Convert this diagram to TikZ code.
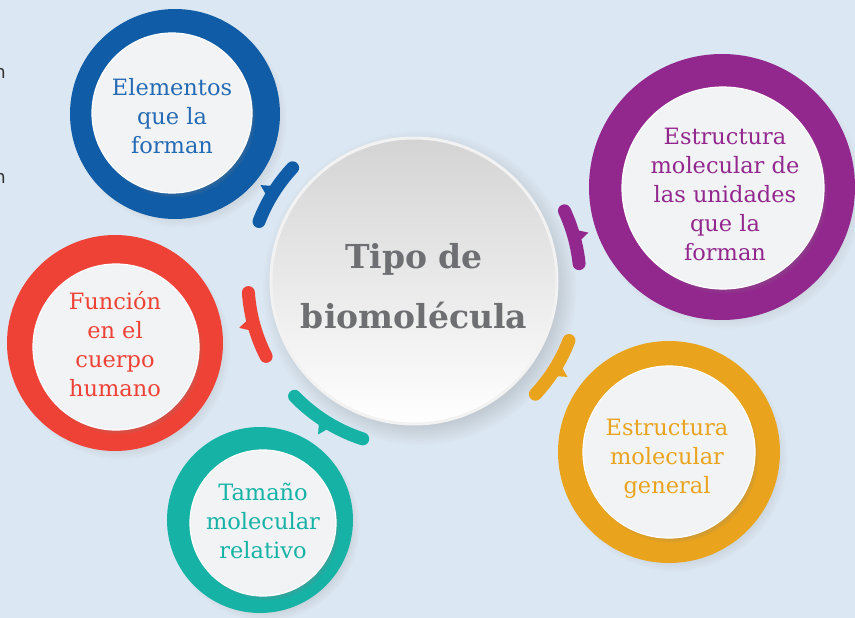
\documentclass[tikz,border=0pt]{standalone}
\usepackage{fontspec}
\setmainfont{DejaVu Serif}
\setsansfont{DejaVu Sans}
\usetikzlibrary{shadows,calc}

\definecolor{fondo}{RGB}{219,231,242}
\definecolor{azul}{RGB}{16,92,166}
\definecolor{azultxt}{RGB}{36,106,180}
\definecolor{rojo}{RGB}{239,66,54}
\definecolor{verde}{RGB}{22,178,166}
\definecolor{naranja}{RGB}{233,163,28}
\definecolor{morado}{RGB}{146,40,142}
\definecolor{gristxt}{RGB}{110,111,114}
\definecolor{disco}{RGB}{242,243,245}

\begin{document}
\begin{tikzpicture}[x=1pt, y=-1pt,
  anillo/.style={circle, inner sep=0pt, circular drop shadow={shadow xshift=5pt, shadow yshift=-6pt, opacity=0.25, shadow scale=1.02}},
  plato/.style={circle, inner sep=0pt, fill=disco, draw=white, line width=1.2pt, circular drop shadow={shadow xshift=3pt, shadow yshift=-4pt, opacity=0.6, shadow scale=1.01}},
  etiq/.style={align=center, inner sep=0pt, font=\fontsize{22.5}{29}\selectfont},
  arco/.style={line width=13pt, line cap=round},
  ]
  \useasboundingbox (0,0) rectangle (855,618);
  \fill[fondo] (0,0) rectangle (855,618);

  % cortes del texto de la pagina
  \node[font=\sffamily\fontsize{18}{20}\selectfont, text=black!80, anchor=east, inner sep=0pt] (frag1) at (6,73) {n};
  \node[font=\sffamily\fontsize{18}{20}\selectfont, text=black!80, anchor=east, inner sep=0pt] (frag2) at (6,178) {n};

  % anillos
  \node[anillo, fill=azul, minimum size=210pt] (elem) at (175,114) {};
  \node[plato, minimum size=160pt] (elemd) at (172,113) {};
  \node[etiq, text=azultxt] (eleml) at (172,116) {Elementos\\que la\\forman};

  \node[anillo, fill=rojo, minimum size=216pt] (func) at (115,343) {};
  \node[plato, minimum size=166pt] (funcd) at (116,347) {};
  \node[etiq, text=rojo] (funcl) at (115,344) {Función\\en el\\cuerpo\\humano};

  \node[anillo, fill=verde, minimum size=186pt] (tam) at (260,520) {};
  \node[plato, minimum size=146pt] (tamd) at (263,523) {};
  \node[etiq, text=verde] (taml) at (263,521) {Tamaño\\molecular\\relativo};

  \node[anillo, fill=naranja, minimum size=222pt] (gen) at (669,452) {};
  \node[plato, minimum size=172pt] (gend) at (669,452) {};
  \node[etiq, text=naranja] (genl) at (667,459) {Estructura\\molecular\\general};

  \node[anillo, fill=morado, minimum size=266pt] (uni) at (722,187) {};
  \node[plato, minimum size=202pt] (unid) at (723,188) {};
  \node[etiq, text=morado] (unil) at (725,194) {Estructura\\molecular de\\las unidades\\que la\\forman};

  % centro
  \node[circle, inner sep=0pt, minimum size=286pt, top color=black!17, bottom color=white, draw=white!95!black, line width=3pt, circular drop shadow={shadow xshift=5pt, shadow yshift=-6pt, opacity=0.3}] (ctr) at (414,281) {};
  \node[align=center, inner sep=0pt, text=gristxt, font=\bfseries\fontsize{33}{60}\selectfont] (tit) at (414,286) {Tipo de\\biomolécula};

  % arcos
  \draw[arco, azul] ($(ctr.center)+(201:166)$) arc[start angle=201, end angle=223, radius=166];
  \fill[azul] ($(ctr.center)+(210:170)$) -- ($(ctr.center)+(214:170)$) -- ($(ctr.center)+(212:181)$) -- cycle;
  \draw[arco, rojo] ($(ctr.center)+(153:166)$) arc[start angle=153, end angle=176, radius=166];
  \fill[rojo] ($(ctr.center)+(163:170)$) -- ($(ctr.center)+(167:170)$) -- ($(ctr.center)+(165:181)$) -- cycle;
  \draw[arco, verde] ($(ctr.center)+(108:166)$) arc[start angle=108, end angle=136, radius=166];
  \fill[verde] ($(ctr.center)+(120:170)$) -- ($(ctr.center)+(124:170)$) -- ($(ctr.center)+(122:181)$) -- cycle;
  \draw[arco, naranja] ($(ctr.center)+(21:166)$) arc[start angle=21, end angle=43, radius=166];
  \fill[naranja] ($(ctr.center)+(30:170)$) -- ($(ctr.center)+(34:170)$) -- ($(ctr.center)+(32:181)$) -- cycle;
  \draw[arco, morado] ($(ctr.center)+(-25:166)$) arc[start angle=-25, end angle=-6, radius=166];
  \fill[morado] ($(ctr.center)+(-17.5:170)$) -- ($(ctr.center)+(-13.5:170)$) -- ($(ctr.center)+(-15.5:181)$) -- cycle;
\end{tikzpicture}
\end{document}
